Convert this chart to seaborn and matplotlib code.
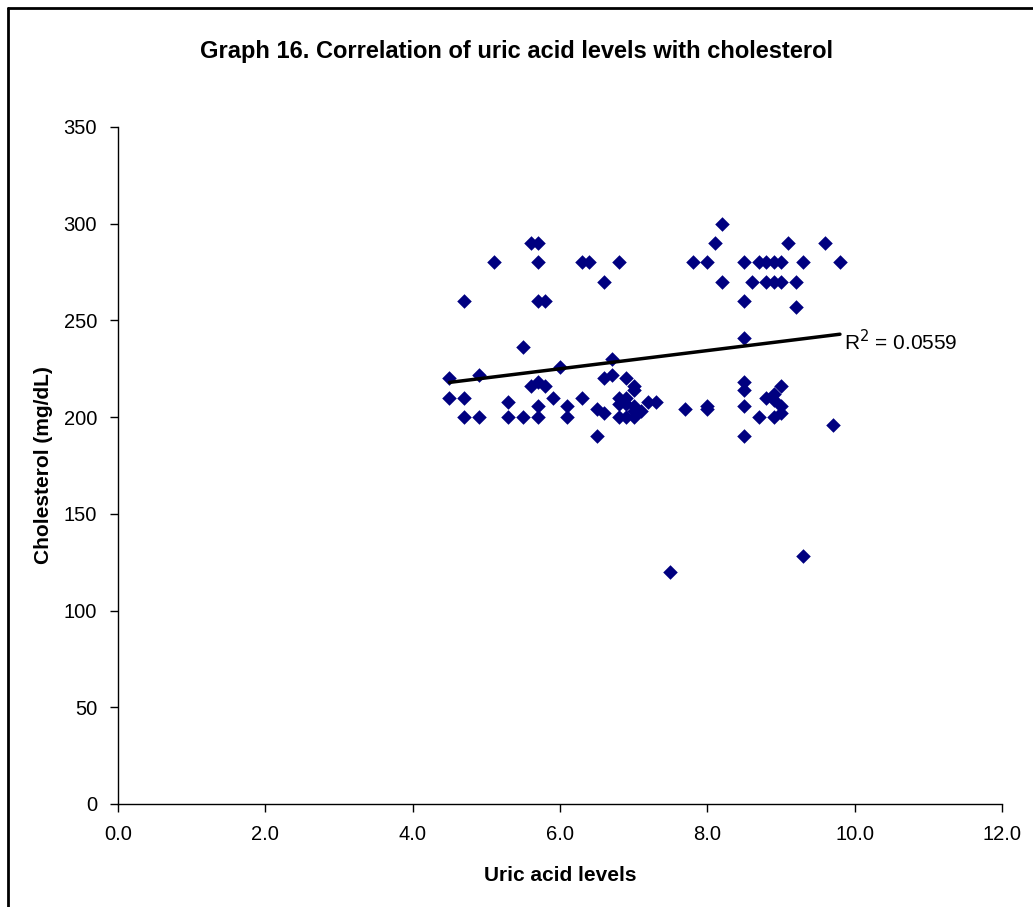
import numpy as np
import pandas as pd
import matplotlib
matplotlib.use("Agg")
import matplotlib.pyplot as plt
from matplotlib.lines import Line2D
import seaborn as sns

# data
uric_acid = [4.5, 4.5, 4.7, 4.7, 4.7, 4.9, 4.9, 5.1, 5.3, 5.3,
             5.5, 5.5, 5.6, 5.6, 5.7, 5.7, 5.7, 5.7, 5.7, 5.7,
             5.8, 5.8, 5.9, 6.0, 6.1, 6.1, 6.3, 6.3, 6.4, 6.5,
             6.5, 6.6, 6.6, 6.6, 6.7, 6.7, 6.8, 6.8, 6.8, 6.8,
             6.9, 6.9, 6.9, 6.9, 7.0, 7.0, 7.0, 7.0, 7.0, 7.1,
             7.2, 7.3, 7.5, 7.7, 7.8, 8.0, 8.0, 8.0, 8.1, 8.2,
             8.2, 8.5, 8.5, 8.5, 8.5, 8.5, 8.5, 8.5, 8.6, 8.7,
             8.7, 8.8, 8.8, 8.8, 8.9, 8.9, 8.9, 8.9, 8.9, 9.0,
             9.0, 9.0, 9.0, 9.0, 9.1, 9.2, 9.2, 9.3, 9.3, 9.6,
             9.7, 9.8]
cholesterol = [220, 210, 260, 210, 200, 222, 200, 280, 208, 200,
               236, 200, 290, 216, 290, 280, 260, 218, 206, 200,
               260, 216, 210, 226, 206, 200, 280, 210, 280, 204,
               190, 270, 220, 202, 230, 222, 280, 210, 207, 200,
               220, 210, 207, 200, 216, 214, 206, 203, 200, 203,
               208, 208, 120, 204, 280, 280, 206, 204, 290, 300,
               270, 280, 260, 241, 218, 214, 206, 190, 270, 280,
               200, 280, 270, 210, 280, 270, 212, 209, 200, 280,
               270, 216, 206, 202, 290, 270, 257, 280, 128, 290,
               196, 280]

x_ticks = [0, 2, 4, 6, 8, 10, 12]
y_ticks = [0, 50, 100, 150, 200, 250, 300, 350]
r2_label = "R$^2$ = 0.0559"

df = pd.DataFrame({"uric": uric_acid, "chol": cholesterol})

sns.set_style("white")
plt.rcParams["font.family"] = ["Liberation Sans", "DejaVu Sans"]
plt.rcParams["text.color"] = "black"
plt.rcParams["axes.labelcolor"] = "black"
plt.rcParams["xtick.color"] = "black"
plt.rcParams["ytick.color"] = "black"

fig = plt.figure(figsize=(10.33, 9.07), dpi=100)
ax = fig.add_axes([0.1142, 0.1136, 0.8558, 0.7464])

sns.scatterplot(data=df, x="uric", y="chol", marker="D", s=55,
                color="#000080", edgecolor="#000080", linewidth=0, ax=ax)
sns.regplot(data=df, x="uric", y="chol", scatter=False, ci=None,
            line_kws={"color": "black", "linewidth": 2.5}, ax=ax)

ax.set_xlim(0, 12)
ax.set_ylim(0, 350)
ax.set_xticks(x_ticks)
ax.set_xticklabels([f"{t:.1f}" for t in x_ticks])
ax.set_yticks(y_ticks)
ax.tick_params(axis="both", direction="out", length=6, width=1,
               color="black", labelsize=14.5, pad=9, left=True, bottom=True)

for side in ["top", "right"]:
    ax.spines[side].set_visible(False)
for side in ["left", "bottom"]:
    ax.spines[side].set_color("black")
    ax.spines[side].set_linewidth(1)

ax.set_xlabel("Uric acid levels", fontsize=15, fontweight="bold", labelpad=16)
ax.set_ylabel("Cholesterol (mg/dL)", fontsize=15, fontweight="bold", labelpad=8)

slope, intercept = np.polyfit(uric_acid, cholesterol, 1)
x_end = max(uric_acid)
ax.text(x_end + 0.05, slope * x_end + intercept - 4, r2_label,
        fontsize=15, ha="left", va="center")

fig.text(0.5, 0.943, "Graph 16. Correlation of uric acid levels with cholesterol",
         ha="center", va="center", fontsize=17, fontweight="bold")

# outer frame like the pasted chart border
fig.add_artist(Line2D([0.0078, 0.0078], [0, 0.9912], color="black", lw=2,
                      transform=fig.transFigure))
fig.add_artist(Line2D([0.0078, 1.0], [0.9912, 0.9912], color="black", lw=2,
                      transform=fig.transFigure))

fig.savefig("out.png", dpi=100, facecolor="white")
